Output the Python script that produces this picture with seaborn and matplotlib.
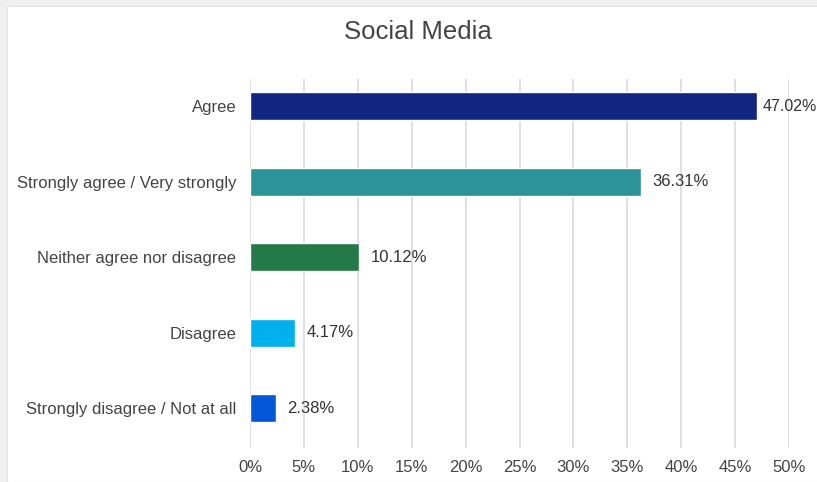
import matplotlib
matplotlib.use("Agg")
import matplotlib.pyplot as plt
from matplotlib.patches import Rectangle
import seaborn as sns
import pandas as pd

categories = [
    "Agree",
    "Strongly agree / Very strongly",
    "Neither agree nor disagree",
    "Disagree",
    "Strongly disagree / Not at all",
]
values = [47.02, 36.31, 10.12, 4.17, 2.38]
colors = ["#13267f", "#2a9499", "#237a46", "#00b0ec", "#0258d9"]
ticks = [0, 5, 10, 15, 20, 25, 30, 35, 40, 45, 50]
tick_labels = [f"{t}%" for t in ticks]

df = pd.DataFrame({"category": categories, "value": values})

sns.set_theme(style="white")
plt.rcParams["font.family"] = ["Liberation Sans", "DejaVu Sans"]

fig = plt.figure(figsize=(8.17, 4.82), dpi=100, facecolor="#efefef")
# white card behind the chart
fig.patches.append(Rectangle((7 / 817, 0), 1, 1 - 6 / 482, transform=fig.transFigure,
                             facecolor="white", edgecolor="#e2e2e2", lw=0.8, zorder=-10))

ax = fig.add_axes([250 / 817, 1 - 448 / 482, (789 - 250) / 817, (448 - 79) / 482])
ax.set_zorder(1)
ax.set_facecolor("none")

sns.barplot(data=df, y="category", x="value", hue="category", palette=colors,
            order=categories, hue_order=categories, width=0.37, legend=False,
            saturation=1, orient="h", ax=ax, zorder=3)

ax.set_xlim(0, 50)
ax.set_ylim(4.53, -0.36)
ax.set_xticks(ticks)
ax.set_xticklabels(tick_labels)
ax.grid(axis="x", color="#dddddd", lw=1.3, zorder=0)
ax.grid(axis="y", visible=False)
ax.set_axisbelow(True)
for s in ax.spines.values():
    s.set_visible(False)
ax.set_xlabel("")
ax.set_ylabel("")
ax.tick_params(axis="both", length=0, labelsize=12, colors="#444444")
ax.tick_params(axis="y", pad=10)
ax.tick_params(axis="x", pad=9)

for i, v in enumerate(values):
    # labels near the right edge sit a little closer to their bar
    near_edge = v > 45
    gap = 0.5 if near_edge else 1.05
    ax.text(v + gap, i, f"{v:.2f}%", va="center", ha="left",
            fontsize=11.5 if near_edge else 12,
            color="#333333", zorder=4, clip_on=False)

fig.text(418 / 817, 1 - 32 / 482, "Social Media", ha="center", va="center",
         fontsize=18.5, color="#444444", zorder=5)

fig.savefig("out.png", dpi=100, facecolor=fig.get_facecolor())
